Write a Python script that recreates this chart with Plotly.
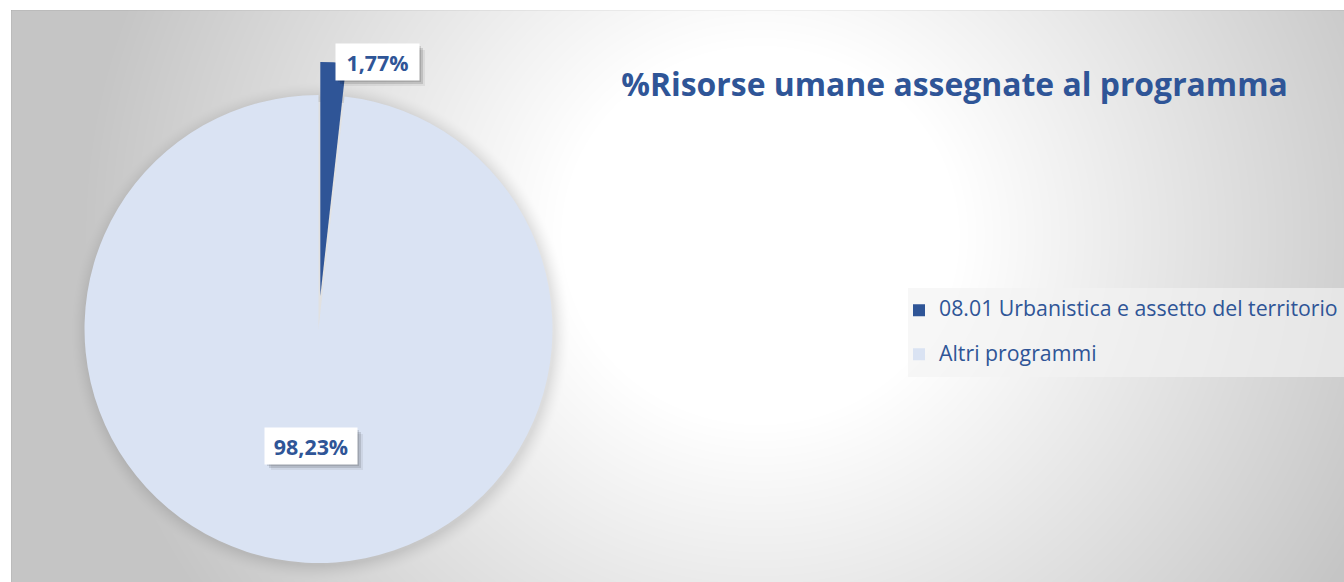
import base64
import struct
import zlib

import numpy as np
import plotly.graph_objects as go

# ---- data ---------------------------------------------------------------
categories = ["08.01 Urbanistica e assetto del territorio", "Altri programmi"]
shares = [1.77, 98.23]
slice_colors = ["#2F5597", "#DAE3F3"]
pulls = [0.141, 0.0]
title_text = "%Risorse umane assegnate al programma"

W, H = 1344, 600
BLUE = "#2F5597"
FONT = "Open Sans"


def fx(x):
    return x / W


def fy(y):
    return 1 - y / H


def pct_label(v):
    return f"{v:.2f}".replace(".", ",") + "%"


# ---- background: radial grey gradient of the chart area -----------------
def png_gray(arr):
    h, w = arr.shape
    a = arr.astype(np.int16)
    rows = np.empty((h, w + 1), np.uint8)
    rows[:, 0] = 1  # "Sub" filter
    rows[:, 1] = a[:, 0].astype(np.uint8)
    rows[:, 2:] = np.mod(a[:, 1:] - a[:, :-1], 256).astype(np.uint8)

    def chunk(tag, data):
        c = struct.pack(">I", len(data)) + tag + data
        return c + struct.pack(">I", zlib.crc32(tag + data) & 0xFFFFFFFF)

    ihdr = struct.pack(">IIBBBBB", w, h, 8, 0, 0, 0, 0)
    return (b"\x89PNG\r\n\x1a\n" + chunk(b"IHDR", ihdr)
            + chunk(b"IDAT", zlib.compress(rows.tobytes(), 9))
            + chunk(b"IEND", b""))


yy, xx = np.mgrid[0:H, 0:W].astype(float)
gcx, gcy = 760.0, 235.0
dist = np.hypot(xx - gcx, (yy - gcy) * 1.05)
bg = 255.0 - 0.12 * np.clip(dist - 195.0, 0, None)
bg = np.clip(bg, 197.0, 255.0)

# soft shadow around the pie
pcx, pcy, pr = 320.0, 331.0, 234.0
dpie = np.hypot(xx - pcx, yy - pcy) - pr
shadow = np.clip(1 - dpie / 16.0, 0, 1) ** 1.6
shadow[dpie < -4] = 0
bg = bg * (1 - 0.10 * shadow)

# chart area frame
area_x0, area_y0 = 11, 10
bg[area_y0, area_x0:] *= 0.95
bg[area_y0:, area_x0] *= 0.95
bg[:area_y0, :] = 255
bg[:, :area_x0] = 255

bg_uri = "data:image/png;base64," + base64.b64encode(png_gray(np.round(bg))).decode()

# ---- pie ---------------------------------------------------------------
pie_cx, pie_cy, pie_r = 318.5, 329.0, 234.0
box = 2 * pie_r * (1 + max(pulls))

# legend entries: 21px text, with a blank second line for roomier rows
legend_labels = [f"<span style='font-size:21.3px'>{c}</span><br>&nbsp;" for c in categories]

fig = go.Figure(
    go.Pie(
        labels=legend_labels,
        values=shares,
        customdata=categories,
        sort=False,
        direction="clockwise",
        rotation=0,
        pull=pulls,
        marker=dict(colors=slice_colors, line=dict(width=0)),
        textinfo="none",
        hovertemplate="%{customdata}: %{percent:.2%}<extra></extra>",
        domain=dict(
            x=[fx(pie_cx - box / 2), fx(pie_cx + box / 2)],
            y=[fy(pie_cy + box / 2), fy(pie_cy - box / 2)],
        ),
    )
)

# ---- value labels in white boxes with a soft drop shadow ---------------
label_boxes = [
    (377.5, 62.0, 83, 36),   # small slice
    (311.0, 446.0, 92, 36),  # large slice
]
annotations = []
shapes = [dict(
    type="rect", xref="paper", yref="paper",
    x0=fx(908), x1=fx(1344), y0=fy(377), y1=fy(288),
    line=dict(width=0), fillcolor="rgba(242,242,242,0.64)", layer="below",
)]
for v, (bx, by, bw, bh) in zip(shares, label_boxes):
    for d, alpha in ((6, 0.06), (4, 0.12), (2, 0.12)):
        shapes.append(dict(
            type="rect", xref="paper", yref="paper", layer="above",
            x0=fx(bx - bw / 2 + d), x1=fx(bx + bw / 2 + d),
            y0=fy(by + bh / 2 + d), y1=fy(by - bh / 2 + d),
            line=dict(width=0), fillcolor=f"rgba(0,0,0,{alpha})",
        ))
    annotations.append(dict(
        x=fx(bx), y=fy(by), xref="paper", yref="paper", text=pct_label(v),
        xanchor="center", yanchor="middle", showarrow=False,
        width=bw, height=bh, borderpad=0, bgcolor="#FFFFFF",
        font=dict(family=FONT, size=21.4, color=BLUE, weight=700),
    ))

fig.update_layout(
    width=W,
    height=H,
    margin=dict(l=0, r=0, t=0, b=0, autoexpand=False),
    paper_bgcolor="#FFFFFF",
    plot_bgcolor="rgba(0,0,0,0)",
    separators=",.",
    title=dict(
        text=title_text, x=fx(954.5), xanchor="center", y=fy(85), yanchor="middle",
        font=dict(family=FONT, size=31.9, color=BLUE, weight=700),
    ),
    images=[dict(
        source=bg_uri, xref="paper", yref="paper", x=0, y=1, sizex=1, sizey=1,
        xanchor="left", yanchor="top", sizing="stretch", layer="below",
    )],
    shapes=shapes,
    legend=dict(
        x=fx(899), xanchor="left", y=fy(293.5), yanchor="top",
        bgcolor="rgba(0,0,0,0)", borderwidth=0, valign="top",
        font=dict(family=FONT, size=15.8, color=BLUE),
    ),
    annotations=annotations,
    showlegend=True,
)

fig.write_html(
    "out.html",
    post_script=("document.documentElement.style.overflow='hidden';"
                 "document.body.style.overflow='hidden';"
                 "document.body.style.margin='0';"),
)
